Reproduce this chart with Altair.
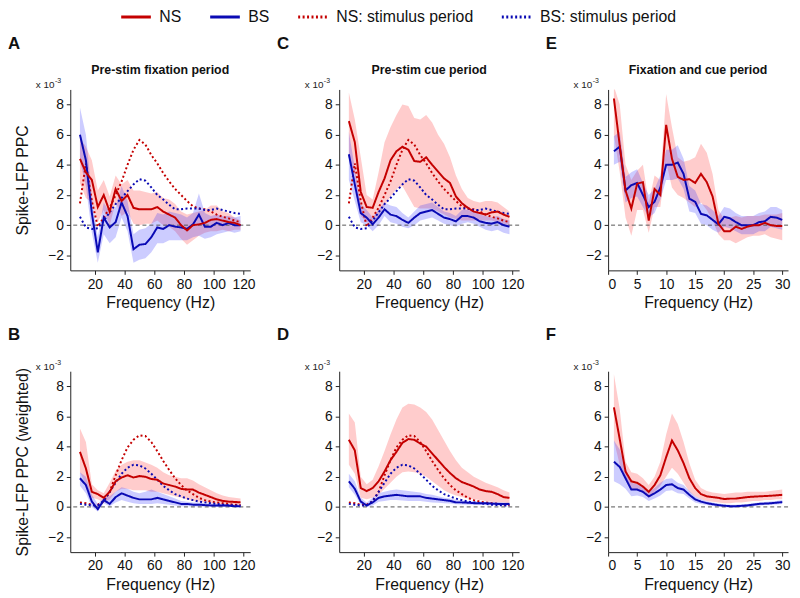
import altair as alt
import pandas as pd

# ---------------- data (PPC values in units of 1e-3) ----------------
FREQ_G = list(range(10, 119, 4))   # 10..118 Hz, panels A-D
FREQ_L = list(range(1, 31))        # 1..30 Hz, panels E-F

SERIES = ["NS", "BS", "NS: stimulus period", "BS: stimulus period"]

# Panel A: pre-stim fixation period
A_NS = [4.4, 3.5, 3.0, 1.2, 2.0, 0.9, 2.4, 1.6, 2.0, 1.15, 1.05, 1.05, 1.05, 1.2, 0.9, 0.7, 0.5, 0.0, -0.35, 0.0, 0.05, 0.15, 0.35, 0.4, 0.3, 0.2, 0.15, 0.0]
A_NS_LO = [2.8, 1.8, 1.5, 0.2, 1.0, 0.0, 1.5, 0.6, 0.9, 0.1, 0.0, 0.1, 0.1, 0.3, 0.0, -0.1, -0.4, -0.9, -1.3, -1.0, -0.7, -0.5, -0.4, -0.4, -0.3, -0.4, -0.3, -0.3]
A_NS_HI = [5.8, 5.2, 4.3, 2.3, 3.0, 1.9, 3.3, 2.7, 3.0, 2.3, 2.3, 2.2, 2.1, 2.2, 1.8, 1.7, 1.4, 0.9, 0.7, 0.8, 0.9, 1.0, 1.3, 1.3, 0.9, 0.8, 0.5, 0.3]
A_BS = [6.0, 4.3, 0.8, -1.8, 0.5, -0.15, 0.2, 1.5, 0.6, -1.6, -1.3, -1.25, -0.8, -0.15, -0.25, 0.0, -0.1, -0.15, -0.25, 0.05, 0.7, -0.1, -0.1, 0.15, 0.0, 0.15, 0.0, 0.0]
A_BS_LO = [4.3, 2.6, -0.5, -2.5, -0.6, -1.2, -0.8, 0.5, -0.4, -2.5, -2.3, -2.2, -1.8, -1.2, -1.2, -1.0, -1.0, -1.0, -1.0, -0.8, -0.7, -0.9, -0.8, -0.6, -0.5, -0.4, -0.5, -0.4]
A_BS_HI = [7.8, 6.0, 2.0, -0.8, 1.5, 0.8, 1.2, 2.6, 1.6, -0.6, -0.3, -0.2, 0.1, 0.8, 0.7, 0.9, 0.8, 0.7, 0.5, 0.8, 2.1, 0.8, 0.6, 0.7, 0.6, 0.6, 0.5, 0.6]

# Stimulus-period reference (unweighted), shown in A and C
STIM_NS = [1.45, 4.1, 1.6, -0.1, 0.5, 1.15, 2.0, 2.9, 4.0, 5.0, 5.65, 5.35, 4.65, 4.1, 3.45, 2.9, 2.4, 2.0, 1.6, 1.25, 1.1, 1.05, 0.9, 0.7, 0.55, 0.45, 0.3, 0.2]
STIM_BS = [0.55, -0.15, -0.25, -0.2, 0.3, 0.85, 1.4, 1.8, 2.25, 2.7, 3.05, 2.95, 2.5, 2.0, 1.7, 1.35, 1.05, 1.05, 1.1, 1.1, 1.1, 1.0, 1.0, 1.1, 1.0, 0.9, 0.8, 0.75]

# Panel C: pre-stim cue period
C_NS = [6.9, 5.5, 2.2, 1.2, 1.15, 2.2, 3.1, 4.3, 4.9, 5.2, 5.0, 4.25, 4.2, 4.5, 4.0, 3.55, 3.1, 2.8, 1.9, 1.45, 1.15, 0.9, 0.8, 0.7, 0.85, 0.9, 0.7, 0.55]
C_NS_LO = [4.5, 3.3, 0.6, 0.2, 0.2, 0.6, 1.3, 1.9, 2.4, 2.6, 1.9, 1.2, 1.1, 1.1, 1.1, 0.9, 0.7, 0.5, 0.4, 0.3, 0.3, 0.3, 0.3, 0.3, 0.3, 0.2, 0.1, 0.0]
C_NS_HI = [8.8, 7.0, 4.5, 2.0, 1.7, 3.5, 5.5, 6.5, 7.3, 8.0, 7.9, 7.1, 7.0, 7.3, 6.8, 6.0, 5.4, 4.5, 3.3, 2.4, 1.8, 1.6, 1.5, 1.6, 1.6, 1.5, 1.2, 0.9]
C_BS = [4.7, 2.7, 0.8, 0.5, 0.05, 0.5, 1.05, 0.7, 0.6, 0.35, 0.15, 0.5, 0.8, 0.9, 1.0, 0.75, 0.5, 0.4, 0.25, 0.6, 0.6, 0.5, 0.25, 0.15, 0.1, 0.2, 0.0, -0.1]
C_BS_LO = [3.0, 1.6, 0.2, 0.0, -0.4, 0.0, 0.6, 0.2, 0.1, -0.1, -0.2, 0.0, 0.3, 0.4, 0.5, 0.3, 0.1, 0.0, -0.1, 0.1, 0.2, 0.1, -0.1, -0.3, -0.4, -0.3, -0.5, -0.6]
C_BS_HI = [6.2, 3.8, 1.4, 1.0, 0.5, 1.0, 1.5, 1.3, 1.2, 0.8, 0.5, 0.9, 1.3, 1.4, 1.5, 1.2, 0.9, 0.8, 0.6, 1.0, 1.0, 0.9, 0.7, 0.6, 0.5, 0.6, 0.4, 0.3]

# Panel E: fixation and cue period (low frequencies)
E_NS = [8.4, 5.3, 2.3, 1.1, 2.75, 2.85, 0.3, 2.4, 2.0, 6.65, 4.4, 3.2, 3.0, 3.05, 2.8, 3.4, 2.85, 1.9, 0.1, -0.4, -0.4, -0.1, -0.25, -0.1, 0.0, 0.0, 0.15, 0.0, -0.05, -0.05]
E_NS_LO = [6.0, 3.5, 0.5, -0.7, 1.0, 1.0, -0.5, 1.2, 1.2, 4.2, 2.5, 2.0, 1.8, 1.5, 1.2, 1.5, 1.0, 0.3, -0.6, -1.0, -1.0, -1.2, -1.0, -0.8, -0.7, -0.7, -0.6, -0.8, -0.9, -1.0]
E_NS_HI = [9.2, 8.0, 4.0, 3.0, 3.6, 4.0, 1.5, 3.3, 3.0, 8.7, 6.5, 4.5, 4.2, 4.3, 4.5, 5.4, 4.8, 3.4, 1.0, 0.4, 0.5, 0.6, 0.5, 0.6, 0.6, 0.6, 0.7, 0.7, 0.7, 0.8]
E_BS = [4.9, 5.2, 2.3, 2.65, 2.8, 2.0, 1.2, 1.55, 2.5, 4.0, 4.0, 4.15, 3.4, 1.75, 1.55, 0.75, 0.65, 0.35, 0.05, 0.55, 0.45, 0.2, 0.0, 0.0, 0.0, 0.2, 0.25, 0.55, 0.5, 0.35]
E_BS_LO = [4.0, 4.2, 1.5, 1.8, 1.9, 1.2, 0.5, 0.8, 1.7, 3.0, 3.0, 3.1, 2.4, 0.9, 0.8, 0.1, 0.0, -0.3, -0.5, -0.1, -0.2, -0.4, -0.6, -0.6, -0.6, -0.4, -0.4, -0.1, -0.2, -0.3]
E_BS_HI = [5.9, 6.2, 3.2, 3.5, 3.7, 2.8, 2.0, 2.4, 3.3, 5.0, 5.0, 5.3, 4.4, 2.6, 2.3, 1.4, 1.3, 1.0, 0.6, 1.2, 1.1, 0.8, 0.6, 0.6, 0.6, 0.8, 0.9, 1.2, 1.2, 1.0]

# Panel B: pre-stim fixation period (weighted)
B_NS = [3.65, 2.55, 1.0, 0.85, 0.6, 1.0, 1.7, 1.95, 2.1, 1.95, 2.05, 2.0, 1.85, 1.8, 1.55, 1.45, 1.35, 1.2, 1.15, 1.15, 0.95, 0.8, 0.65, 0.5, 0.4, 0.35, 0.33, 0.3]
B_NS_LO = [2.3, 1.5, 0.6, 0.5, 0.3, 0.5, 1.0, 1.2, 1.2, 1.1, 1.1, 1.1, 1.0, 1.0, 0.9, 0.8, 0.7, 0.6, 0.5, 0.4, 0.35, 0.3, 0.25, 0.2, 0.15, 0.12, 0.1, 0.1]
B_NS_HI = [5.2, 4.3, 1.5, 1.1, 0.9, 1.6, 2.4, 2.8, 3.0, 3.1, 3.1, 2.95, 2.8, 2.6, 2.3, 2.1, 2.0, 1.9, 1.9, 1.75, 1.5, 1.3, 1.1, 0.9, 0.75, 0.65, 0.6, 0.55]
B_BS = [1.9, 1.45, 0.35, -0.15, 0.45, 0.2, 0.65, 0.9, 0.75, 0.6, 0.5, 0.5, 0.5, 0.6, 0.5, 0.4, 0.3, 0.2, 0.2, 0.15, 0.15, 0.12, 0.1, 0.1, 0.1, 0.08, 0.05, 0.05]
B_BS_LO = [1.4, 0.9, 0.0, -0.3, 0.25, 0.05, 0.3, 0.45, 0.35, 0.25, 0.2, 0.2, 0.2, 0.25, 0.2, 0.15, 0.1, 0.05, 0.05, 0.03, 0.02, 0.01, 0.0, 0.0, 0.0, 0.0, 0.0, 0.0]
B_BS_HI = [2.3, 2.0, 0.8, 0.2, 0.6, 0.7, 1.0, 1.3, 1.2, 1.0, 0.9, 1.0, 1.15, 1.0, 0.85, 0.7, 0.55, 0.4, 0.35, 0.3, 0.3, 0.25, 0.22, 0.2, 0.2, 0.18, 0.15, 0.15]

# Stimulus-period reference (weighted), shown in B and D
STIM_W_NS = [0.3, 0.25, 0.15, 0.15, 0.35, 1.0, 2.1, 3.1, 3.95, 4.45, 4.75, 4.7, 4.3, 3.7, 3.05, 2.45, 1.9, 1.45, 1.1, 0.85, 0.6, 0.45, 0.35, 0.3, 0.25, 0.2, 0.15, 0.12]
STIM_W_BS = [0.2, 0.15, 0.1, 0.1, 0.4, 1.0, 1.6, 2.2, 2.6, 2.8, 2.75, 2.55, 2.2, 1.8, 1.4, 1.1, 0.85, 0.7, 0.55, 0.45, 0.35, 0.3, 0.25, 0.2, 0.15, 0.12, 0.1, 0.1]

# Panel D: pre-stim cue period (weighted)
D_NS = [4.45, 3.75, 1.25, 1.05, 1.25, 1.7, 2.35, 3.1, 3.65, 4.25, 4.5, 4.45, 4.2, 4.0, 3.55, 3.1, 2.65, 2.25, 1.9, 1.65, 1.5, 1.35, 1.15, 1.05, 1.0, 0.85, 0.65, 0.6]
D_NS_LO = [2.8, 2.2, 0.6, 0.5, 0.6, 0.8, 1.2, 1.6, 2.0, 2.3, 2.35, 2.3, 2.2, 2.0, 1.7, 1.4, 1.1, 0.9, 0.75, 0.65, 0.55, 0.5, 0.45, 0.4, 0.35, 0.3, 0.3, 0.25]
D_NS_HI = [6.2, 5.6, 2.0, 1.5, 1.8, 2.7, 3.7, 4.8, 5.8, 6.6, 6.85, 6.8, 6.6, 6.3, 5.8, 5.1, 4.4, 3.7, 3.1, 2.6, 2.3, 2.0, 1.8, 1.6, 1.45, 1.3, 1.1, 0.95]
D_BS = [1.7, 1.2, 0.35, 0.1, 0.3, 0.6, 0.7, 0.75, 0.8, 0.75, 0.7, 0.7, 0.7, 0.6, 0.55, 0.5, 0.45, 0.4, 0.3, 0.3, 0.28, 0.25, 0.25, 0.25, 0.22, 0.2, 0.2, 0.2]
D_BS_LO = [1.3, 0.8, 0.15, 0.0, 0.1, 0.35, 0.4, 0.45, 0.45, 0.42, 0.4, 0.4, 0.4, 0.35, 0.3, 0.28, 0.25, 0.22, 0.18, 0.16, 0.15, 0.14, 0.13, 0.12, 0.11, 0.1, 0.1, 0.1]
D_BS_HI = [2.2, 1.7, 0.6, 0.3, 0.6, 0.9, 1.0, 1.1, 1.15, 1.1, 1.05, 1.0, 0.95, 0.85, 0.8, 0.7, 0.6, 0.55, 0.45, 0.42, 0.4, 0.38, 0.36, 0.35, 0.33, 0.32, 0.3, 0.3]

# Panel F: fixation and cue period (weighted)
F_NS = [6.6, 4.5, 2.35, 1.7, 1.6, 1.35, 1.0, 1.45, 2.1, 3.3, 4.4, 3.75, 2.9, 1.9, 1.25, 0.85, 0.7, 0.65, 0.6, 0.52, 0.55, 0.55, 0.6, 0.65, 0.68, 0.7, 0.72, 0.74, 0.77, 0.8]
F_NS_LO = [4.4, 2.8, 1.8, 1.2, 1.1, 0.95, 0.6, 1.0, 1.4, 2.0, 2.6, 2.2, 1.6, 1.0, 0.7, 0.5, 0.4, 0.35, 0.3, 0.25, 0.25, 0.3, 0.3, 0.35, 0.4, 0.4, 0.45, 0.45, 0.5, 0.5]
F_NS_HI = [8.8, 6.5, 3.0, 2.3, 2.2, 1.9, 1.45, 2.0, 3.0, 4.8, 6.2, 5.5, 4.3, 2.9, 1.8, 1.25, 1.05, 0.95, 0.9, 0.85, 0.9, 0.95, 0.95, 1.0, 1.0, 1.0, 1.0, 1.05, 1.1, 1.15]
F_BS = [3.0, 2.65, 1.9, 1.15, 1.15, 1.0, 0.7, 0.9, 1.15, 1.45, 1.5, 1.25, 1.15, 0.8, 0.5, 0.35, 0.25, 0.18, 0.12, 0.08, 0.05, 0.05, 0.07, 0.1, 0.15, 0.2, 0.22, 0.24, 0.28, 0.32]
F_BS_LO = [1.7, 1.5, 1.2, 0.7, 0.75, 0.65, 0.4, 0.55, 0.75, 1.05, 1.1, 0.9, 0.85, 0.55, 0.3, 0.2, 0.12, 0.06, 0.02, -0.02, -0.05, -0.05, -0.03, 0.0, 0.05, 0.1, 0.12, 0.14, 0.16, 0.2]
F_BS_HI = [4.4, 3.8, 2.6, 1.6, 1.5, 1.35, 1.0, 1.25, 1.6, 1.85, 1.9, 1.6, 1.45, 1.05, 0.7, 0.5, 0.38, 0.3, 0.22, 0.18, 0.15, 0.15, 0.17, 0.2, 0.25, 0.3, 0.33, 0.36, 0.4, 0.45]

GAMMA_TICKS = [20, 40, 60, 80, 100, 120]
LOW_TICKS = [0, 5, 10, 15, 20, 25, 30]
Y_TICKS = [-2, 0, 2, 4, 6, 8]

# ---------------- styling ----------------
RED = "#c40000"
BLUE = "#0a0ab4"
FONT = "Liberation Sans"
W, H = 182, 183

color_scale = alt.Scale(domain=SERIES, range=[RED, BLUE, RED, BLUE])
dash_scale = alt.Scale(domain=SERIES, range=[[1, 0], [1, 0], [2, 2.5], [2, 2.5]])
legend = alt.Legend(
    title=None, orient="none", legendX=50, legendY=-90, direction="horizontal",
    symbolType="stroke", symbolSize=900, symbolStrokeWidth=3,
    labelFontSize=16, labelFont=FONT, labelColor="#111", columnPadding=22,
    labelOffset=7, padding=0, labelLimit=300,
)


def one_row():
    return pd.DataFrame({"k": [0]})


def panel(freq, ns, ns_lo, ns_hi, bs, bs_lo, bs_hi, stim_ns, stim_bs,
          xdomain, xticks, letter, title, ytitle, letter_y):
    band = pd.DataFrame({"f": freq, "ns_lo": ns_lo, "ns_hi": ns_hi,
                         "bs_lo": bs_lo, "bs_hi": bs_hi})
    parts = []
    if stim_ns is not None:
        parts.append(pd.DataFrame({"f": freq, "v": stim_ns, "s": SERIES[2]}))
        parts.append(pd.DataFrame({"f": freq, "v": stim_bs, "s": SERIES[3]}))
    parts.append(pd.DataFrame({"f": freq, "v": bs, "s": SERIES[1]}))
    parts.append(pd.DataFrame({"f": freq, "v": ns, "s": SERIES[0]}))
    lines = pd.concat(parts, ignore_index=True)

    xaxis = alt.Axis(values=xticks, tickCount=len(xticks) + 2, title="Frequency (Hz)",
                     titleY=25, labelOverlap=False)
    if ytitle:
        yaxis = alt.Axis(values=Y_TICKS, tickCount=len(Y_TICKS) + 2, title=ytitle,
                         titleX=-40, labelOverlap=False)
    else:
        yaxis = alt.Axis(values=Y_TICKS, tickCount=len(Y_TICKS) + 2, title=None,
                         labelOverlap=False)
    xs = alt.Scale(domain=xdomain, nice=False, zero=False)
    ys = alt.Scale(domain=[-3, 9], nice=False, zero=False)

    ns_band = alt.Chart(band).mark_area(color="#ff2a2a", opacity=0.24, clip=True).encode(
        x=alt.X("f:Q", scale=xs, axis=xaxis),
        y=alt.Y("ns_lo:Q", scale=ys, axis=yaxis), y2="ns_hi:Q")
    bs_band = alt.Chart(band).mark_area(color="#2a2aff", opacity=0.24, clip=True).encode(
        x=alt.X("f:Q", scale=xs, axis=xaxis),
        y=alt.Y("bs_lo:Q", scale=ys, axis=yaxis), y2="bs_hi:Q")
    zero = alt.Chart(one_row()).mark_rule(color="#555", strokeDash=[4, 3], strokeWidth=1).encode(
        y=alt.Y("k:Q", scale=ys, axis=yaxis))
    line = alt.Chart(lines).mark_line(strokeWidth=2, clip=True).encode(
        x=alt.X("f:Q", scale=xs, axis=xaxis),
        y=alt.Y("v:Q", scale=ys, axis=yaxis),
        color=alt.Color("s:N", scale=color_scale, legend=legend, sort=SERIES),
        strokeDash=alt.StrokeDash("s:N", scale=dash_scale, legend=legend, sort=SERIES),
    )
    base = one_row()
    letter_t = alt.Chart(base).mark_text(text=letter, font=FONT, fontSize=17, fontWeight="bold",
                                         align="left", baseline="middle", color="#111").encode(
        x=alt.value(-63), y=alt.value(letter_y))
    x10 = alt.Chart(base).mark_text(text="x 10", font=FONT, fontSize=10, align="right",
                                    baseline="alphabetic", color="#222").encode(
        x=alt.value(-16), y=alt.value(-1.5))
    sup = alt.Chart(base).mark_text(text="-3", font=FONT, fontSize=7, align="left",
                                    baseline="alphabetic", color="#222").encode(
        x=alt.value(-15.5), y=alt.value(-6.5))
    layers = [ns_band, bs_band, zero, line, letter_t, x10, sup]
    if title:
        layers.append(alt.Chart(base).mark_text(text=title, font=FONT, fontSize=12.5, fontWeight="bold",
                                                align="center", baseline="middle", color="#111").encode(
            x=alt.value(W / 2), y=alt.value(-20)))
    return alt.layer(*layers).properties(width=W, height=H)


GD = [3.5, 124.5]
LD = [0, 31]

pA = panel(FREQ_G, A_NS, A_NS_LO, A_NS_HI, A_BS, A_BS_LO, A_BS_HI, STIM_NS, STIM_BS,
           GD, GAMMA_TICKS, "A", "Pre-stim fixation period", "Spike-LFP PPC", -46)
pC = panel(FREQ_G, C_NS, C_NS_LO, C_NS_HI, C_BS, C_BS_LO, C_BS_HI, STIM_NS, STIM_BS,
           GD, GAMMA_TICKS, "C", "Pre-stim cue period", None, -46)
pE = panel(FREQ_L, E_NS, E_NS_LO, E_NS_HI, E_BS, E_BS_LO, E_BS_HI, None, None,
           LD, LOW_TICKS, "E", "Fixation and cue period", None, -46)
pB = panel(FREQ_G, B_NS, B_NS_LO, B_NS_HI, B_BS, B_BS_LO, B_BS_HI, STIM_W_NS, STIM_W_BS,
           GD, GAMMA_TICKS, "B", None, "Spike-LFP PPC (weighted)", -37)
pD = panel(FREQ_G, D_NS, D_NS_LO, D_NS_HI, D_BS, D_BS_LO, D_BS_HI, STIM_W_NS, STIM_W_BS,
           GD, GAMMA_TICKS, "D", None, None, -37)
pF = panel(FREQ_L, F_NS, F_NS_LO, F_NS_HI, F_BS, F_BS_LO, F_BS_HI, None, None,
           LD, LOW_TICKS, "F", None, None, -37)

chart = alt.concat(pA, pC, pE, pB, pD, pF, columns=3,
                   spacing={"row": 102, "column": 90}, bounds="flush").resolve_scale(
    x="independent", y="independent", color="shared", strokeDash="shared"
).properties(
    padding={"left": 0, "top": -11, "right": 2, "bottom": 2}
).configure_view(stroke=None).configure_axis(
    grid=False, domainColor="#222", tickColor="#222", domainWidth=1, tickWidth=1, tickSize=4,
    labelColor="#111", titleColor="#111", labelFont=FONT, titleFont=FONT,
    labelFontSize=14, titleFontSize=16, titleFontWeight="normal", labelPadding=3,
    labelOverlap=False,
)

chart.save("out.html", embed_options={"renderer": "svg", "actions": False})
